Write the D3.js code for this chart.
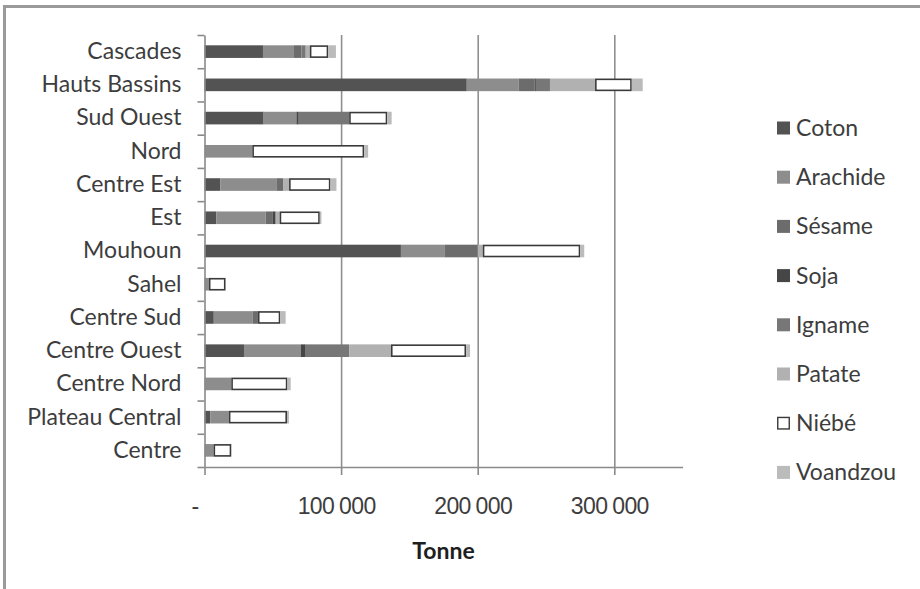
<!DOCTYPE html>
<html>
<head>
<meta charset="utf-8">
<script src="https://cdn.jsdelivr.net/npm/d3@7"></script>
<style>
  body { margin: 0; background: #fff; }
  svg { display: block; font-family: Lato, "Open Sans", sans-serif; }
</style>
</head>
<body>
<svg id="chart" width="920" height="589"></svg>
<script>
// regions, top to bottom
const regions = ["Cascades", "Hauts Bassins", "Sud Ouest", "Nord", "Centre Est", "Est", "Mouhoun",
  "Sahel", "Centre Sud", "Centre Ouest", "Centre Nord", "Plateau Central", "Centre"];

const crops = ["Coton", "Arachide", "Sésame", "Soja", "Igname", "Patate", "Niébé", "Voandzou"];

// tonnes
const coton    = [42800, 192000, 43300, 0, 11500, 8600, 143800, 0, 6800, 28900, 0, 4200, 0];
const arachide = [22700, 37900, 24000, 35000, 41100, 36200, 31800, 3200, 28600, 41500, 19600, 13600, 6600];
const sesame   = [5400, 11700, 0, 0, 4900, 4900, 24500, 0, 3700, 0, 0, 0, 0];
const soja     = [0, 1000, 1700, 0, 0, 2400, 0, 0, 0, 3700, 0, 0, 0];
const igname   = [3200, 10300, 36900, 0, 0, 0, 0, 0, 0, 31800, 0, 0, 0];
const patate   = [3000, 33000, 0, 0, 4400, 2900, 3600, 0, 0, 30600, 0, 0, 0];
const niebe    = [13500, 26900, 27900, 81900, 30300, 29400, 71400, 12200, 16400, 55000, 41100, 42600, 13000];
const voandzou = [5600, 8000, 3200, 2900, 4400, 1200, 2900, 0, 3900, 2900, 2400, 1400, 0];

const xTicks = [0, 100000, 200000, 300000];

const series = [coton, arachide, sesame, soja, igname, patate, niebe, voandzou];
const colors = ["#535354", "#8d8d8e", "#6c6c6d", "#464647", "#777778", "#b1b1b1", "#ffffff", "#bbbbbb"];

const rows = regions.map((r, i) => {
  const o = { region: r };
  crops.forEach((c, j) => o[c] = series[j][i]);
  return o;
});

const stacked = d3.stack().keys(crops)(rows);

const svg = d3.select("#chart");
const plotL = 204.5, plotR = 682.6, plotT = 35, plotB = 467;
const textColor = "#3d3d3d";

const x = d3.scaleLinear().domain([0, 350000]).range([plotL, plotR]);
const y = d3.scaleBand().domain(regions).range([plotT, plotB]).paddingInner(0.62).paddingOuter(0.31);
const yEdge = d3.scaleLinear().domain([0, regions.length]).range([plotT, plotB]);

// outer frame (left and top only are visible)
svg.append("path")
  .attr("d", "M4.5,589 V6.5 H920")
  .attr("fill", "none")
  .attr("stroke", "#9a9a9a")
  .attr("stroke-width", 3);

// gridlines
svg.append("g")
  .attr("transform", `translate(0,${plotB})`)
  .call(d3.axisBottom(x).tickValues(xTicks.filter(d => d > 0)).tickSize(-(plotB - plotT)).tickFormat(""))
  .call(g => g.select(".domain").remove())
  .call(g => g.selectAll("line").attr("stroke", "#8f8f8f").attr("stroke-width", 1.6));

// bars
const layer = svg.append("g").selectAll("g")
  .data(stacked)
  .join("g")
  .attr("fill", (d, i) => colors[i]);

layer.selectAll("rect")
  .data(d => d.map(v => Object.assign(v, { key: d.key })).filter(v => v[1] > v[0]))
  .join("rect")
  .attr("x", d => x(d[0]) + (d.key === "Niébé" ? 0.8 : 0))
  .attr("y", d => y(d.data.region) + (d.key === "Niébé" ? 0.8 : 0))
  .attr("width", d => x(d[1]) - x(d[0]) - (d.key === "Niébé" ? 1.6 : 0))
  .attr("height", d => y.bandwidth() - (d.key === "Niébé" ? 1.6 : 0))
  .attr("stroke", d => d.key === "Niébé" ? "#3a3a3a" : null)
  .attr("stroke-width", d => d.key === "Niébé" ? 1.6 : null);

// x axis
const xAxis = svg.append("g")
  .attr("transform", `translate(0,${plotB})`)
  .call(d3.axisBottom(x).tickValues(xTicks).tickSizeInner(8).tickSizeOuter(0)
    .tickFormat(d => d === 0 ? "-" : d3.format(",")(d).replace(/,/g, " ")));
xAxis.select(".domain").attr("stroke", "#8a8a8a").attr("stroke-width", 1.6);
xAxis.selectAll(".tick line").attr("stroke", "#8a8a8a").attr("stroke-width", 1.6);
xAxis.selectAll(".tick text")
  .attr("y", 0).attr("dy", "0")
  .attr("transform", d => `translate(${d === 0 ? -10 : -5},47)`)
  .attr("fill", textColor)
  .attr("font-size", 23)
  .attr("letter-spacing", -0.6)
  .attr("word-spacing", -1);

// y axis: ticks on category edges
const yAxis = svg.append("g")
  .attr("transform", `translate(${plotL},0)`)
  .call(d3.axisLeft(yEdge).tickValues(d3.range(regions.length + 1)).tickSizeInner(7).tickSizeOuter(0).tickFormat(""));
yAxis.select(".domain").attr("stroke", "#8a8a8a").attr("stroke-width", 1.6);
yAxis.selectAll(".tick line").attr("stroke", "#8a8a8a").attr("stroke-width", 1.6);

// region labels
svg.append("g")
  .attr("transform", `translate(${plotL},0)`)
  .call(d3.axisLeft(y).tickSize(0).tickPadding(23))
  .call(g => g.select(".domain").remove())
  .call(g => g.selectAll("text").attr("font-size", 23).attr("fill", textColor).attr("font-family", "Lato"));

// axis title
svg.append("text")
  .attr("x", (plotL + plotR) / 2)
  .attr("y", 559)
  .attr("text-anchor", "middle")
  .attr("font-size", 23)
  .attr("font-weight", "bold")
  .attr("fill", "#1e1e1e")
  .text("Tonne");

// legend
const legend = svg.append("g").selectAll("g")
  .data(crops)
  .join("g")
  .attr("transform", (d, i) => `translate(777,${128 + i * 49.2})`);

legend.append("rect")
  .attr("x", (d, i) => i === 6 ? 0.75 : 0)
  .attr("y", (d, i) => i === 6 ? -5.75 : -6.5)
  .attr("width", (d, i) => i === 6 ? 11.5 : 13)
  .attr("height", (d, i) => i === 6 ? 11.5 : 13)
  .attr("fill", (d, i) => colors[i])
  .attr("stroke", (d, i) => i === 6 ? "#3a3a3a" : null)
  .attr("stroke-width", 1.4);

legend.append("text")
  .attr("x", 19)
  .attr("y", 0)
  .attr("dy", "0.35em")
  .attr("font-size", 23)
  .attr("fill", textColor)
  .text(d => d);
</script>
</body>
</html>
